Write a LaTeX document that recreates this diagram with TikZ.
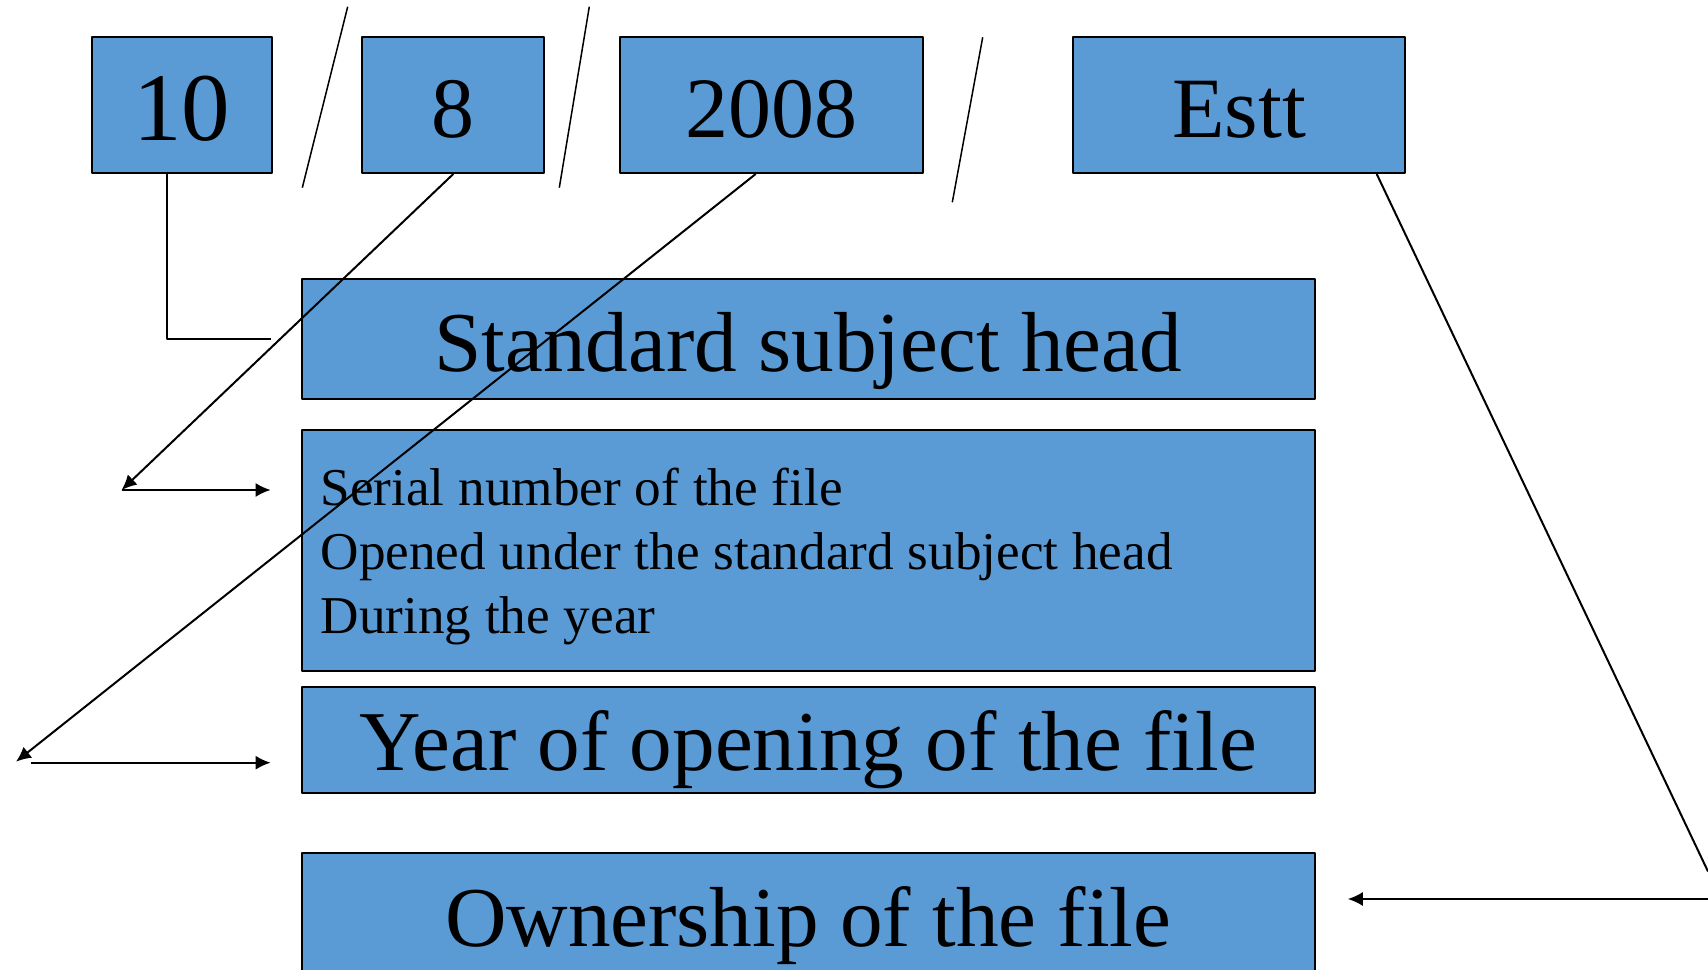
\documentclass[tikz,border=0pt]{standalone}
\usepackage{fontspec}
\setmainfont{Liberation Serif}
\usepackage{tikz}
\usetikzlibrary{arrows.meta,calc,positioning}
\definecolor{boxblue}{HTML}{5B9BD5}

\begin{document}
\begin{tikzpicture}[>={Latex[length=7.5bp,width=7bp]},line join=bevel,
  datebox/.style={draw,fill=boxblue,line width=1bp,inner sep=0pt,font=\fontsize{43bp}{50bp}\selectfont},
  headbox/.style={draw,fill=boxblue,line width=1bp,inner sep=0pt,minimum width=506.55bp,font=\fontsize{42.6bp}{50bp}\selectfont},
  wire/.style={line width=1bp},
  slash/.style={line width=0.75bp}]
%%
\useasboundingbox (0bp,0bp) rectangle (854bp,485bp);
\clip (0bp,0bp) rectangle (854bp,485bp);
  \node (n10) at (90.8bp,432.55bp) [datebox,minimum width=90.1bp,text height=52.1bp,text depth=16bp,font=\fontsize{48.5bp}{56bp}\selectfont] {10};
  \node (n8) at (226.65bp,432.55bp) [datebox,minimum width=91bp,text height=50.2bp,text depth=17.9bp] {8};
  \node (n2008) at (385.7bp,432.55bp) [datebox,minimum width=151.35bp,text height=50.2bp,text depth=17.9bp] {2008};
  \node (estt) at (619.6bp,432.55bp) [datebox,minimum width=165.85bp,text height=50.2bp,text depth=17.9bp] {Estt};
  \node (std) at (404.1bp,315.6bp) [headbox,text height=46.3bp,text depth=13.6bp] {Standard subject head};
  \node (serial) at (404.1bp,209.7bp) [headbox,text width=487.55bp,align=left,inner xsep=9.5bp,text height=37.85bp,text depth=82.5bp,font=\fontsize{26.6bp}{32bp}\selectfont] {\spaceskip=0.26em\relax Serial number of the file\\Opened under the standard subject head\\During the year};
  \node (year) at (404.1bp,114.85bp) [headbox,text height=41.85bp,text depth=11.15bp] {Year of opening of the file};
  \node (own) at (404.1bp,28.7bp) [headbox,text height=46.65bp,text depth=13.25bp] {Ownership of the file};
  \coordinate (tip8) at (60.85bp,240bp);
  \coordinate (tip2008) at (8bp,104.15bp);
  \coordinate (tail2008) at (15.35bp,103.65bp);
  \coordinate (esttend) at (854bp,49.25bp);
  \coordinate (owntail) at (854bp,35.5bp);
  \draw [slash] (173.85bp,481.65bp) -- (151.15bp,391.15bp);
  \draw [slash] (294.65bp,481.65bp) -- (279.65bp,391.15bp);
  \draw [slash] (491.35bp,466.35bp) -- (476.15bp,383.85bp);
  \draw [wire] ([xshift=-7.45bp]n10.south) |- ([xshift=-15bp]std.west);
  \draw [wire,->] (n8.south) -- (tip8);
  \draw [wire,->] (tip8) -- ([xshift=-15bp]serial.west |- tip8);
  \draw [wire,->] ([xshift=-7.85bp]n2008.south) -- (tip2008);
  \draw [wire,->] (tail2008) -- ([xshift=-15bp]year.west |- tail2008);
  \draw [wire] ([xshift=68.75bp]estt.south) -- (esttend);
  \draw [wire,->] (owntail) -- ([xshift=16bp]own.east |- owntail);
%
\end{tikzpicture}
\end{document}
